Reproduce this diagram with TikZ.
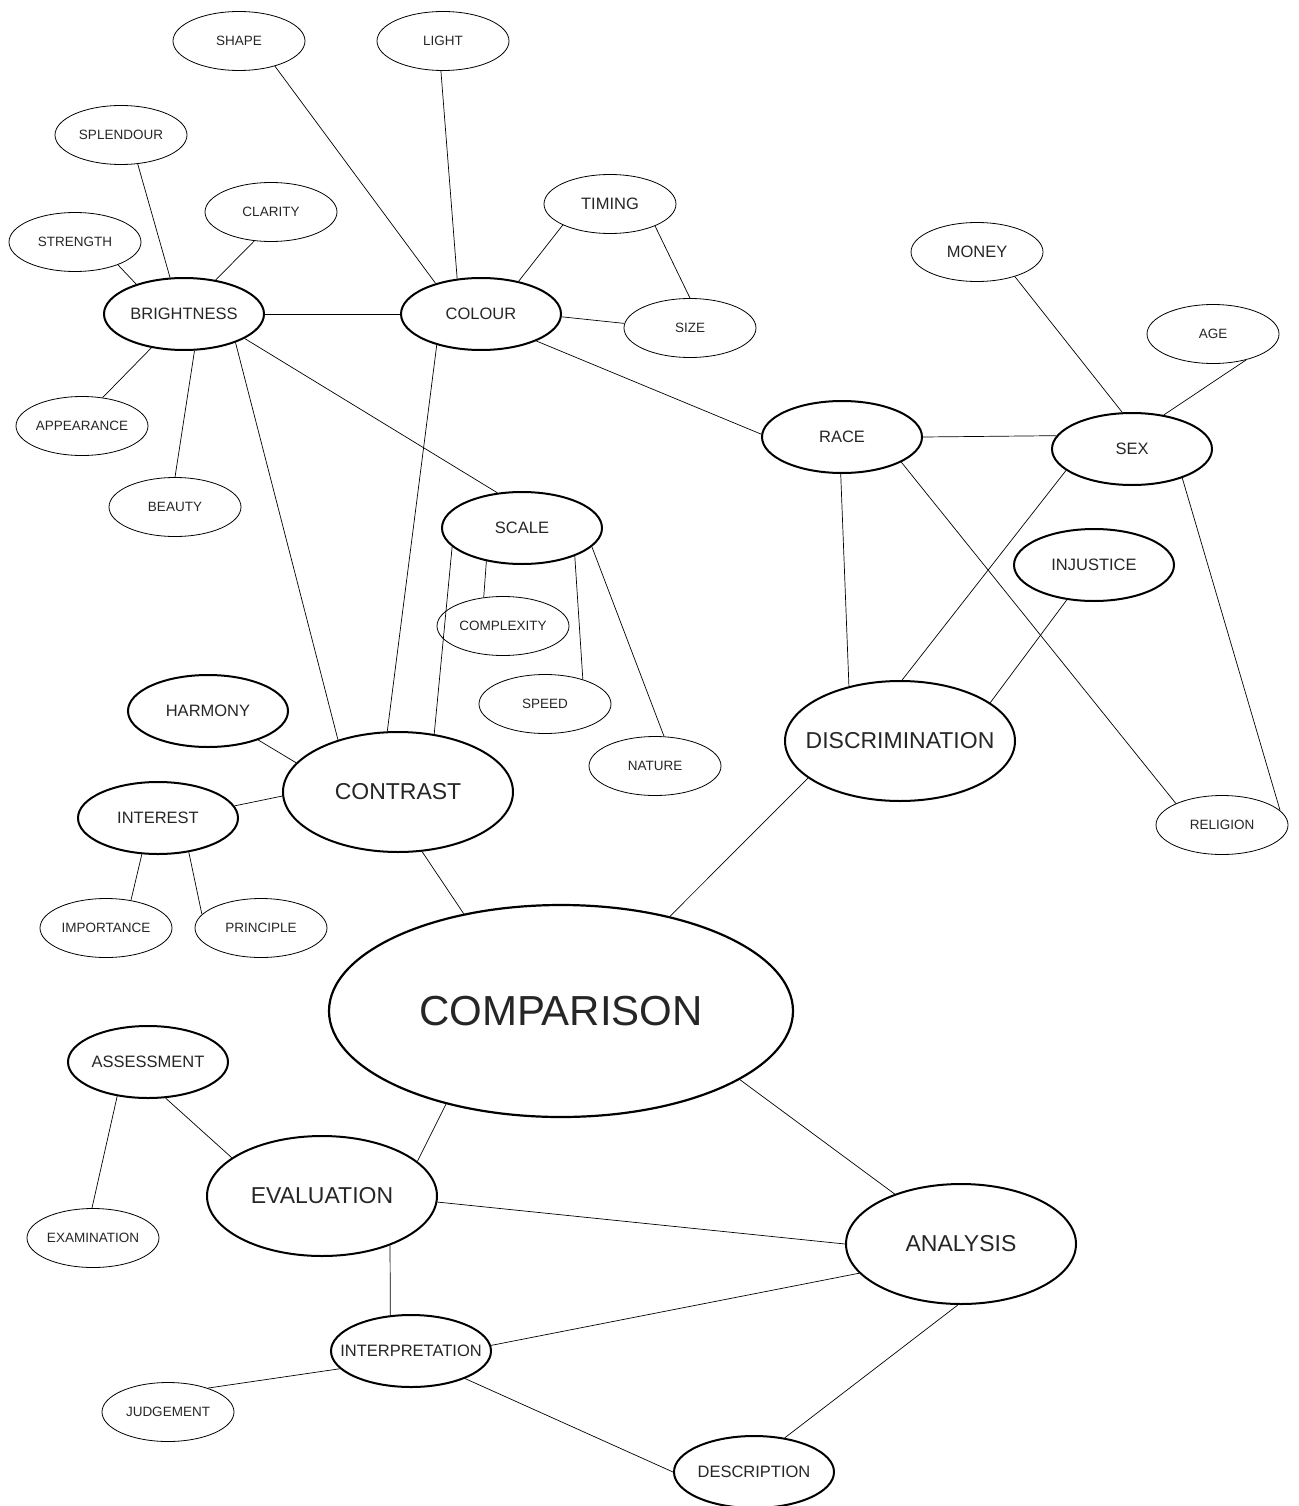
\documentclass[tikz,border=0pt]{standalone}
\usepackage{fontspec}
\setmainfont{Liberation Sans}
\usetikzlibrary{shapes.geometric}
\newcommand{\word}[1]{\makebox[0pt]{#1}}% text does not widen the ellipse
\tikzset{
  bubble/.style={ellipse, draw, inner sep=0pt, text=black!85},
  thinbub/.style={bubble, line width=0.8pt, minimum width=132pt, minimum height=59pt, font=\fontsize{13.5}{15}\selectfont},
  thinmid/.style={thinbub, font=\fontsize{16.5}{18}\selectfont},
  thickbub/.style={bubble, line width=2pt, minimum width=160pt, minimum height=72pt, font=\fontsize{16.5}{18}\selectfont},
  thickbig/.style={bubble, line width=2pt, minimum width=230pt, minimum height=120pt, font=\fontsize{23}{26}\selectfont},
  link/.style={draw, line width=0.7pt}
}
\begin{document}
\begin{tikzpicture}[x=1pt,y=-1pt]
    \useasboundingbox (0,0) rectangle (1298,1506);
    % small thin bubbles
    \foreach \n/\x/\y/\t in {shape/239/41/SHAPE, light/443/41/LIGHT, splendour/121/135/SPLENDOUR,
      clarity/271/212/CLARITY, strength/75/242/STRENGTH, size/690/328/SIZE, age/1213/334/AGE,
      appearance/82/426/APPEARANCE, beauty/175/507/BEAUTY, complexity/503/626/COMPLEXITY,
      speed/545/704/SPEED, nature/655/766/NATURE, religion/1222/825/RELIGION,
      importance/106/928/IMPORTANCE, principle/261/928/PRINCIPLE, examination/93/1238/EXAMINATION,
      judgement/168/1412/JUDGEMENT}{%
      \node[thinbub] (\n) at (\x,\y) {\word{\t}};
    }
    \foreach \n/\x/\y/\t in {timing/610/204/TIMING, money/977/252/MONEY}{%
      \node[thinmid] (\n) at (\x,\y) {\word{\t}};
    }
    % thick bubbles
    \foreach \n/\x/\y/\t in {brightness/184/314/BRIGHTNESS, colour/481/314/COLOUR, race/842/437/RACE,
      sex/1132/449/SEX, scale/522/528/SCALE, injustice/1094/565/INJUSTICE, harmony/208/711/HARMONY,
      interest/158/818/INTEREST, assessment/148/1062/ASSESSMENT, interpretation/411/1351/INTERPRETATION,
      description/754/1472/DESCRIPTION}{%
      \node[thickbub] (\n) at (\x,\y) {\word{\t}};
    }
    \foreach \n/\x/\y/\t in {discrimination/900/741/DISCRIMINATION, contrast/398/792/CONTRAST,
      evaluation/322/1196/EVALUATION, analysis/961/1244/ANALYSIS}{%
      \node[thickbig] (\n) at (\x,\y) {\word{\t}};
    }
    \node[bubble, line width=2.2pt, minimum width=464pt, minimum height=212pt,
      font=\fontsize{42}{46}\selectfont] (comparison) at (561,1011) {\word{COMPARISON}};
    % connectors
    \foreach \a/\b in {shape.-35/colour.146, light.-94/colour.124, splendour.-60/brightness.111,
      clarity.-120/brightness.47, strength.-28/brightness.148, brightness.0/colour.180,
      timing.-156/colour.41, timing.-26/size.90, colour.-2/size.176, colour.-26/race.178,
      brightness.-134/appearance.54, brightness.-74/beauty.90, brightness.-29/contrast.139,
      brightness.-22/scale.125, colour.-145/contrast.100, race.0/sex.170, money.-33/sex.105,
      age.-38/sex.47, race.-92/discrimination.133, race.-23/religion.155,
      sex.-162/discrimination.88, sex.-30/religion.14, injustice.-128/discrimination.23,
      scale.-165/contrast.58, scale.-137/complexity.124, scale.-28/speed.33, scale.-15/nature.73,
      harmony.-30/contrast.164, interest.9/contrast.-178, interest.-114/importance.48,
      interest.-48/principle.167, contrast.-68/comparison.135, discrimination.-158/comparison.41,
      comparison.-141/evaluation.20, comparison.-21/analysis.143, assessment.-64/evaluation.157,
      assessment.-132/examination.92, evaluation.-3/analysis.180, evaluation.-36/interpretation.120,
      analysis.-164/interpretation.4, analysis.-93/description.48, interpretation.-166/judgement.31,
      interpretation.-27/description.180}{%
      \draw[link] (\a) -- (\b);
    }
\end{tikzpicture}
\end{document}
